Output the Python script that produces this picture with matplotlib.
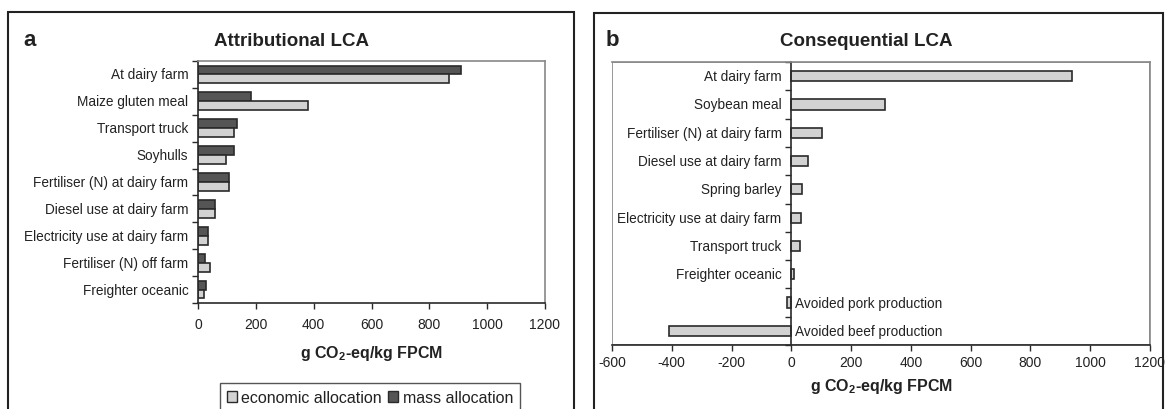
import matplotlib
matplotlib.use("Agg")
from matplotlib import pyplot as plt
from matplotlib.patches import Rectangle, Patch

plt.rcParams['font.family'] = ['Liberation Sans', 'DejaVu Sans']
plt.rcParams['mathtext.fontset'] = 'custom'
plt.rcParams['mathtext.rm'] = 'Liberation Sans'
plt.rcParams['mathtext.bf'] = 'Liberation Sans:bold'
plt.rcParams['axes.unicode_minus'] = False

# panel a - attributional LCA
cats_a = ["At dairy farm", "Maize gluten meal", "Transport truck", "Soyhulls",
          "Fertiliser (N) at dairy farm", "Diesel use at dairy farm",
          "Electricity use at dairy farm", "Fertiliser (N) off farm", "Freighter oceanic"]
mass_a = [910, 183, 134, 124, 107, 59, 34, 24, 27]
econ_a = [869, 380, 124, 97, 107, 59, 34, 40, 22]

# panel b - consequential LCA
cats_b = ["At dairy farm", "Soybean meal", "Fertiliser (N) at dairy farm",
          "Diesel use at dairy farm", "Spring barley", "Electricity use at dairy farm",
          "Transport truck", "Freighter oceanic", "Avoided pork production",
          "Avoided beef production"]
vals_b = [940, 315, 104, 57, 37, 33, 30, 8, -15, -410]

xticks_a = [0, 200, 400, 600, 800, 1000, 1200]
xticks_b = [-600, -400, -200, 0, 200, 400, 600, 800, 1000, 1200]

light = "#d2d2d2"
dark = "#555555"
edge = "#2a2a2a"
frame = "#888888"
txt = "#222222"
xlab = r"g CO$_\mathbf{2}$-eq/kg FPCM"

W, H = 1167, 410
fig = plt.figure(figsize=(W / 100, H / 100), dpi=100)
fig.patch.set_facecolor("white")

# outer panel boxes
fig.add_artist(Rectangle((8 / W, -0.1), 566 / W, 1.1 - 13 / H, transform=fig.transFigure,
                         fill=False, edgecolor="#222222", linewidth=1.5))
fig.add_artist(Rectangle((594 / W, -0.1), 569 / W, 1.1 - 14 / H, transform=fig.transFigure,
                         fill=False, edgecolor="#222222", linewidth=1.5))


def setup(ax, n, pad):
    ax.set_ylim(n - 0.5, -0.5)
    ax.set_yticks([i - 0.5 for i in range(n + 1)])
    ax.set_yticklabels([])
    ax.tick_params(axis="y", length=4, width=1, color=edge, direction="out")
    ax.tick_params(axis="x", length=4, width=1, color=edge, direction="out",
                   labelsize=10, pad=pad, labelcolor=txt)
    for s in ["top", "right"]:
        ax.spines[s].set_color(frame)
    ax.spines["left"].set_color(edge)
    ax.spines["bottom"].set_color(edge)
    for s in ax.spines.values():
        s.set_linewidth(1.2)


# ---- panel a ----
ax1 = fig.add_axes([198 / W, 1 - 304 / H, 347 / W, 242 / H])
n = len(cats_a)
h = 0.33
ys = list(range(n))
ax1.barh([y - h / 2 for y in ys], mass_a, height=h, color=dark, edgecolor=edge,
         linewidth=1.2, label="mass allocation")
ax1.barh([y + h / 2 for y in ys], econ_a, height=h, color=light, edgecolor=edge,
         linewidth=1.2, label="economic allocation")
ax1.set_xlim(0, 1200)
ax1.set_xticks(xticks_a)
setup(ax1, n, 6)
for y, c in zip(ys, cats_a):
    ax1.annotate(c, (0, y), xytext=(-7, 0), textcoords="offset points",
                 ha="right", va="center", fontsize=9.8, color=txt)
ax1.set_xlabel(xlab, fontsize=11.5, fontweight="bold", labelpad=9, color=txt)
fig.text(291 / W, 1 - 41 / H, "Attributional LCA", ha="center", va="center",
         fontsize=13.5, fontweight="bold", color=txt)
fig.text(23 / W, 1 - 40 / H, "a", ha="left", va="center", fontsize=16, fontweight="bold",
         color=txt)

handles = [Patch(facecolor=light, edgecolor=edge, label="economic allocation"),
           Patch(facecolor=dark, edgecolor=edge, label="mass allocation")]
leg = fig.legend(handles=handles, loc="upper center", bbox_to_anchor=(370 / W, 26 / H),
                 ncol=2, fontsize=11.5, frameon=True, fancybox=False, handlelength=0.6,
                 handleheight=0.6, handletextpad=0.3, columnspacing=0.4, borderpad=0.45,
                 borderaxespad=0)
leg.get_frame().set_edgecolor(edge)
leg.get_frame().set_linewidth(1)
for t in leg.get_texts():
    t.set_color(txt)

# ---- panel b ----
ax2 = fig.add_axes([612 / W, 1 - 346 / H, 538 / W, 283 / H])
n = len(cats_b)
h = 0.36
ys = list(range(n))
ax2.barh(ys, vals_b, height=h, color=light, edgecolor=edge, linewidth=1.2)
ax2.set_xlim(-600, 1200)
ax2.set_xticks(xticks_b)
setup(ax2, n, 3.5)
ax2.spines["left"].set_position(("data", 0))
ax2.add_patch(Rectangle((0, 0), 1, 1, transform=ax2.transAxes, fill=False,
                        edgecolor=frame, linewidth=1.2, zorder=0.5))
for y, c, v in zip(ys, cats_b, vals_b):
    if v >= 0:
        ax2.annotate(c, (0, y), xytext=(-7, 0), textcoords="offset points",
                     ha="right", va="center", fontsize=9.8, color=txt)
    else:
        ax2.annotate(c, (0, y), xytext=(3, 0), textcoords="offset points",
                     ha="left", va="center", fontsize=9.8, color=txt)
ax2.set_xlabel(xlab, fontsize=11.5, fontweight="bold", labelpad=5, color=txt)
fig.text(866 / W, 1 - 41 / H, "Consequential LCA", ha="center", va="center",
         fontsize=13.5, fontweight="bold", color=txt)
fig.text(606 / W, 1 - 40 / H, "b", ha="left", va="center", fontsize=16, fontweight="bold",
         color=txt)

fig.savefig("out.png", dpi=100, facecolor="white")
